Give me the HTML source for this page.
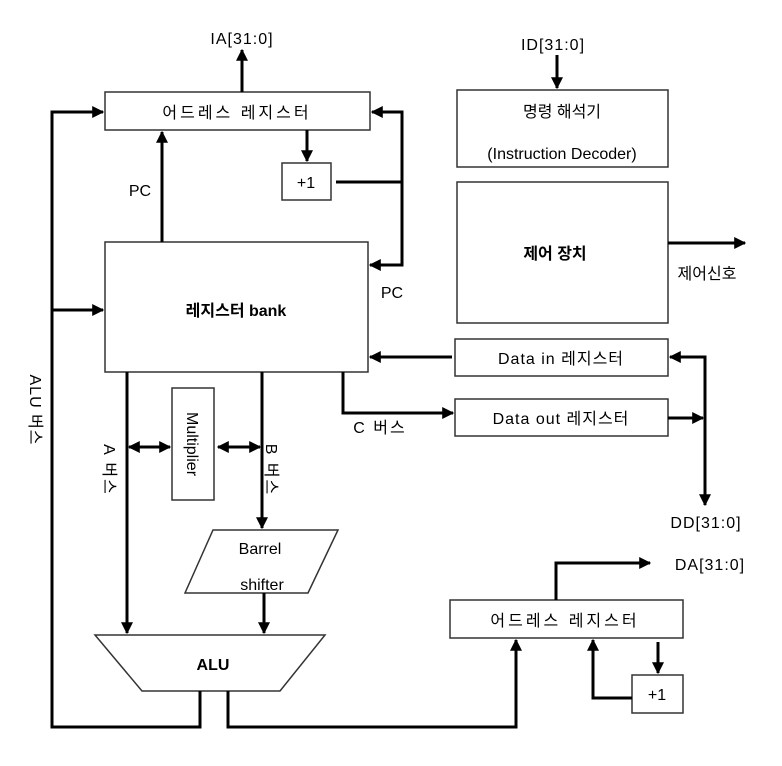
<!DOCTYPE html>
<html><head><meta charset="utf-8"><style>
html,body{margin:0;padding:0;background:#fff;}
svg text{font-family:"Liberation Sans","Noto Sans CJK KR","NanumGothic",sans-serif;font-size:16px;fill:#000;}
</style></head><body>
<svg width="782" height="761" viewBox="0 0 782 761" xmlns="http://www.w3.org/2000/svg">
<defs>
<marker id="a" viewBox="0 0 10 10" refX="9" refY="5" markerWidth="4" markerHeight="4" orient="auto-start-reverse"><path d="M0,0 L10,5 L0,10 z" fill="#000"/></marker>
</defs>
<rect width="782" height="761" fill="#fff"/>
<g fill="#fff" stroke="#333" stroke-width="1.5">
<rect x="105" y="92" width="265" height="38"/>
<rect x="282" y="163" width="49" height="37"/>
<rect x="105" y="242" width="263" height="130"/>
<rect x="457" y="90" width="211" height="77"/>
<rect x="457" y="182" width="211" height="141"/>
<rect x="455" y="339" width="213" height="37"/>
<rect x="455" y="399" width="213" height="37"/>
<rect x="172" y="388" width="42" height="112"/>
<polygon points="213,530 338,530 308,593 185,593"/>
<polygon points="95,635 325,635 280,691 142,691"/>
<rect x="450" y="600" width="233" height="38"/>
<rect x="632" y="675" width="51" height="38"/>
</g>
<g fill="none" stroke="#000" stroke-width="3">
<line x1="242" y1="92" x2="242" y2="50" marker-end="url(#a)"/>
<polyline points="52,725 52,112 103,112" marker-end="url(#a)"/>
<line x1="52" y1="310" x2="103" y2="310" marker-end="url(#a)"/>
<line x1="162" y1="242" x2="162" y2="132" marker-end="url(#a)"/>
<line x1="307" y1="130" x2="307" y2="161" marker-end="url(#a)"/>
<line x1="336" y1="182" x2="402" y2="182"/>
<polyline points="402,265 402,112 372,112" marker-end="url(#a)"/>
<line x1="402" y1="200" x2="402" y2="265"/>
<polyline points="402,200 402,265 370,265" marker-end="url(#a)"/>
<line x1="557" y1="55" x2="557" y2="88" marker-end="url(#a)"/>
<line x1="668" y1="243" x2="745" y2="243" marker-end="url(#a)"/>
<line x1="452" y1="357" x2="370" y2="357" marker-end="url(#a)"/>
<polyline points="343,372 343,413 453,413" marker-end="url(#a)"/>
<polyline points="705,505 705,357 670,357" marker-start="url(#a)" marker-end="url(#a)"/>
<line x1="668" y1="418" x2="703" y2="418" marker-end="url(#a)"/>
<line x1="127" y1="372" x2="127" y2="633" marker-end="url(#a)"/>
<line x1="262" y1="372" x2="262" y2="528" marker-end="url(#a)"/>
<line x1="129" y1="447" x2="170" y2="447" marker-start="url(#a)" marker-end="url(#a)"/>
<line x1="218" y1="447" x2="260" y2="447" marker-start="url(#a)" marker-end="url(#a)"/>
<line x1="264" y1="593" x2="264" y2="633" marker-end="url(#a)"/>
<polyline points="200,691 200,727 52,727 52,720"/>
<polyline points="228,691 228,727 516,727 516,640" marker-end="url(#a)"/>
<polyline points="556,600 556,563 650,563" marker-end="url(#a)"/>
<line x1="658" y1="642" x2="658" y2="673" marker-end="url(#a)"/>
<polyline points="632,698 593,698 593,640" marker-end="url(#a)"/>
</g>
<text x="242" y="44" text-anchor="middle" letter-spacing="1">IA[31:0]</text>
<text x="237" y="118" text-anchor="middle" letter-spacing="3">어드레스 레지스터</text>
<text x="306" y="188" text-anchor="middle" font-size="14">+1</text>
<text x="140" y="196" text-anchor="middle" font-size="14">PC</text>
<text x="392" y="298" text-anchor="middle" font-size="14">PC</text>
<text x="236" y="316" text-anchor="middle" font-weight="bold">레지스터 bank</text>
<text x="553" y="50" text-anchor="middle" letter-spacing="1">ID[31:0]</text>
<text x="562" y="117" text-anchor="middle">명령 해석기</text>
<text x="562" y="159" text-anchor="middle">(Instruction Decoder)</text>
<text x="555" y="259" text-anchor="middle" font-weight="bold">제어 장치</text>
<text x="707" y="279" text-anchor="middle">제어신호</text>
<text x="561" y="364" text-anchor="middle" letter-spacing="1">Data in 레지스터</text>
<text x="561" y="424" text-anchor="middle" letter-spacing="1">Data out 레지스터</text>
<text x="380" y="433" text-anchor="middle" letter-spacing="2">C 버스</text>
<text x="706" y="528" text-anchor="middle" letter-spacing="1">DD[31:0]</text>
<text x="710" y="570" text-anchor="middle" letter-spacing="1">DA[31:0]</text>
<text x="565" y="626" text-anchor="middle" letter-spacing="3">어드레스 레지스터</text>
<text x="657" y="700" text-anchor="middle" font-size="14">+1</text>
<text x="260" y="554" text-anchor="middle">Barrel</text>
<text x="262" y="590" text-anchor="middle">shifter</text>
<text x="213" y="670" text-anchor="middle" font-weight="bold">ALU</text>
<text transform="translate(187,444) rotate(90)" text-anchor="middle" font-size="15">Multiplier</text>
<text transform="translate(104,470) rotate(90)" text-anchor="middle" letter-spacing="2">A 버스</text>
<text transform="translate(266,470) rotate(90)" text-anchor="middle" letter-spacing="2">B 버스</text>
<text transform="translate(30,410) rotate(90)" text-anchor="middle" letter-spacing="1">ALU 버스</text>
</svg>
</body></html>
